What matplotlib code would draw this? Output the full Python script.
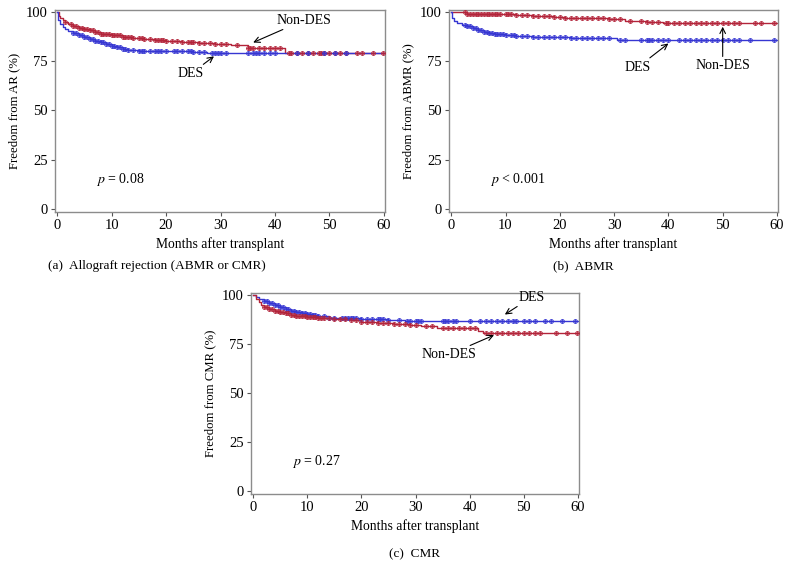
import numpy as np
import matplotlib
matplotlib.use('Agg')
import matplotlib.pyplot as plt

plt.rcParams['font.family'] = ['Liberation Serif', 'DejaVu Serif']
plt.rcParams['mathtext.fontset'] = 'stix'
plt.rcParams['font.size'] = 9

RED = '#b3243a'
BLUE = '#3636d2'

# (a) Allograft rejection - curvas de Kaplan-Meier
a_non_t = [0, 0.3, 0.6, 1.0, 1.5, 2.0, 3, 4, 5, 6, 7, 8, 10, 12, 14, 16, 18, 20, 23, 26, 29, 32, 35, 41.8, 60]
a_non_s = [100, 98, 97, 96, 95, 94, 93, 92, 91.5, 91, 90, 89, 88.3, 87.5, 87, 86.5, 86, 85.3, 85, 84.3, 83.7, 83, 81.7, 79, 79]
a_non_c = [1.5, 2.5, 3, 3.5, 4, 4.5, 5, 5.5, 6, 6.5, 7, 7.5, 8, 8.5, 9, 9.5, 10, 10.5, 11, 11.5, 12, 12.5, 13,
           13.5, 14, 15, 15.5, 16, 17, 18, 18.5, 19, 19.5, 20, 21, 22, 23, 24, 24.5, 25, 26, 27, 28, 29, 30, 31,
           33, 35, 35.5, 36, 37, 38, 39, 40, 41, 42.5, 43, 44, 45, 46, 47, 48, 48.5, 49, 50, 51, 52, 53, 55, 56, 58, 59.8]
a_des_t = [0, 0.2, 0.5, 1, 1.5, 2, 3, 4, 5, 6, 7, 8, 9, 10, 11, 12, 13, 15, 20, 25, 27.5, 60]
a_des_s = [100, 96, 94, 92.5, 91.5, 90.5, 89.5, 88.5, 87.5, 86.5, 85.5, 84.5, 83.5, 82.5, 82, 81.3, 80.5, 80.3, 80, 79.8, 79, 79]
a_des_c = [3, 3.5, 4, 4.5, 5, 5.5, 6, 6.5, 7, 7.5, 8, 8.5, 9, 9.5, 10, 10.5, 11, 11.5, 12, 12.5, 13, 14, 15, 15.5,
           16, 17, 18, 18.5, 19, 20, 21.5, 22, 23, 24, 24.5, 25, 26, 27, 28.5, 29, 29.5, 30, 31, 35, 36, 36.5, 37,
           38, 39, 40, 44, 46, 49, 51, 53]

# (b) ABMR
b_non_t = [0, 3, 12, 15, 19, 21, 29, 32, 36, 39, 60]
b_non_s = [100, 99, 98.5, 98, 97.5, 97, 96.5, 95.5, 95, 94.5, 94.5]
b_non_c = [2.5, 3, 3.5, 4, 4.5, 5, 5.5, 6, 6.5, 7, 7.5, 8, 8.5, 9, 10, 10.5, 11, 12, 13, 14, 15, 16, 17, 18, 19,
           20, 21, 22, 23, 24, 25, 26, 27, 28, 29, 30, 31, 33, 35, 36, 37, 38, 39.5, 40, 41, 42, 43, 44, 45, 46, 47,
           48, 49, 50, 51, 52, 53, 56, 57, 59.5]
b_des_t = [0, 0.2, 0.5, 1, 2, 3, 4, 5, 6, 7, 8, 10, 12, 15, 20, 22, 29, 30.5, 60]
b_des_s = [100, 97, 95.5, 94.5, 93.5, 92.8, 92, 91, 90, 89.3, 88.8, 88.2, 87.7, 87.5, 87.2, 87, 86.7, 86, 86]
b_des_c = [2.5, 3, 3.5, 4, 4.5, 5, 5.5, 6, 6.5, 7, 7.5, 8, 8.5, 9, 9.5, 10, 11, 11.5, 12, 13, 14, 15, 16, 17, 18,
           19, 20, 21, 22, 23, 24, 25, 26, 27, 28, 29, 31, 32, 35, 36, 36.5, 37, 38, 39, 40, 42, 43, 44, 45, 46,
           47, 48, 49, 50, 51, 52, 53, 55, 59.5]

# (c) CMR
c_des_t = [0, 0.5, 1, 2, 3, 4, 5, 6, 7, 8, 9, 10, 11, 12, 13, 14, 16, 20, 25, 28, 60]
c_des_s = [100, 99, 98, 97, 96, 95, 94, 93, 92, 91.5, 91, 90.5, 90, 89.5, 89, 88.3, 88, 87.7, 87.3, 86.6, 86.6]
c_des_c = [2, 2.5, 3, 3.5, 4, 4.5, 5, 5.5, 6, 6.5, 7, 7.5, 8, 8.5, 9, 9.5, 10, 10.5, 11, 11.5, 12, 13, 14, 15,
           16.5, 17, 17.5, 18, 18.5, 19, 20, 21, 22, 23, 23.5, 24, 25, 27, 28.5, 29, 30, 30.5, 31, 35, 35.5, 36,
           37, 37.5, 40, 42, 43, 44, 45, 46, 47, 48, 48.5, 50, 51, 52, 54, 55, 57, 59.5]
c_non_t = [0, 0.5, 1, 1.5, 2, 3, 4, 5, 6, 7, 8, 10, 12, 15, 18, 20, 23, 26, 29, 31, 34, 41.5, 42.5, 60]
c_non_s = [100, 98, 96.5, 95, 94, 93, 92, 91.5, 91, 90, 89.5, 88.5, 88, 87.5, 87, 86, 85.5, 85, 84.5, 84, 83.3, 81.5, 80.5, 80.5]
c_non_c = [2, 2.5, 3, 3.5, 4, 4.5, 5, 5.5, 6, 6.5, 7, 7.5, 8, 8.5, 9, 9.5, 10, 10.5, 11, 11.5, 12, 12.5, 13, 14,
           15, 16, 17, 18, 19, 20, 21, 22, 23, 24, 25, 26, 27, 28, 29, 30, 32, 33, 35, 36, 37, 38, 39, 40, 41,
           43, 44, 45, 46, 47, 48, 49, 50, 51, 52, 53, 56, 58, 59.8]

paineis = [
    dict(pos=[0.0696, 0.6345, 0.4177, 0.3483], ylabel='Freedom from AR (%)',
         curvas=[(a_non_t, a_non_s, a_non_c, RED), (a_des_t, a_des_s, a_des_c, BLUE)],
         p=' = 0.08',
         notas=[('Non-DES', (40.3, 92.5), (36, 84.5), 'left', 'bottom'),
                ('DES', (27.0, 72.0), (28.8, 77.5), 'right', 'top')],
         legenda=('(a)  Allograft rejection (ABMR or CMR)', 0.199, 0.541)),
    dict(pos=[0.5684, 0.6345, 0.4165, 0.3483], ylabel='Freedom from ABMR (%)',
         curvas=[(b_non_t, b_non_s, b_non_c, RED), (b_des_t, b_des_s, b_des_c, BLUE)],
         p=' < 0.001',
         notas=[('DES', (36.8, 72.0), (40, 84.0), 'right', 'center'),
                ('Non-DES', (50, 76.0), (50, 92.5), 'center', 'top')],
         legenda=('(b)  ABMR', 0.738, 0.541)),
    dict(pos=[0.3177, 0.1483, 0.4152, 0.3466], ylabel='Freedom from CMR (%)',
         curvas=[(c_des_t, c_des_s, c_des_c, BLUE), (c_non_t, c_non_s, c_non_c, RED)],
         p=' = 0.27',
         notas=[('DES', (49.0, 95.5), (46.5, 90.0), 'left', 'bottom'),
                ('Non-DES', (41.2, 69.5), (44.5, 79.5), 'right', 'center')],
         legenda=('(c)  CMR', 0.525, 0.045)),
]

fig = plt.figure(figsize=(7.9, 5.8), dpi=100)

for pn in paineis:
    ax = fig.add_axes(pn['pos'])
    for t, s, c, cor in pn['curvas']:
        ax.plot(t, s, drawstyle='steps-post', color=cor, lw=1.0, zorder=2)
        # valor da curva em cada tempo censurado
        idx = np.searchsorted(np.array(t), np.array(c), side='right') - 1
        sc = np.array(s)[idx]
        ax.plot(c, sc, ls='none', marker='o', ms=2.7, mfc='none', mec=cor, mew=0.7, zorder=3)
        ax.plot(c, sc, ls='none', marker='+', ms=2.7, mec=cor, mew=0.6, zorder=3)
    ax.set_xlim(-0.4, 60.2)
    ax.set_ylim(-1.5, 101)
    ax.set_xticks([0, 10, 20, 30, 40, 50, 60])
    ax.set_yticks([0, 25, 50, 75, 100])
    for sp in ax.spines.values():
        sp.set_color('#8c8c8c')
        sp.set_linewidth(1.0)
    ax.tick_params(direction='out', length=3, width=0.8, color='#555555', labelsize=10.5, pad=2)
    ax.set_xlabel('Months after transplant', fontsize=9.8, labelpad=4)
    ax.set_ylabel(pn['ylabel'], fontsize=9.2, labelpad=4)
    ax.text(7.2, 15, r'$\it{p}$' + pn['p'], fontsize=10, ha='left', va='center')
    for txt, xyt, xy, ha, va in pn['notas']:
        ax.annotate(txt, xy=xy, xytext=xyt, ha=ha, va=va, fontsize=10,
                    arrowprops=dict(arrowstyle='->', color='black', lw=0.8, shrinkA=0, shrinkB=0))
    txt, lx, ly = pn['legenda']
    fig.text(lx, ly, txt, ha='center', va='center', fontsize=9.5)

fig.savefig('out.png', dpi=100)
